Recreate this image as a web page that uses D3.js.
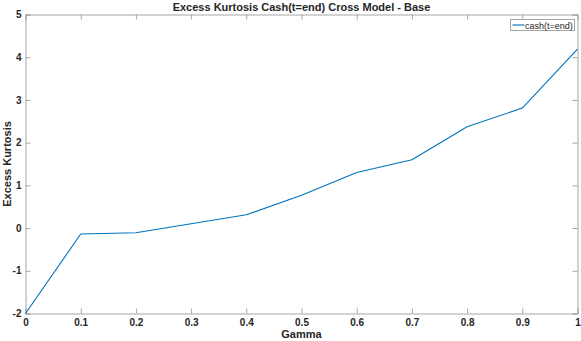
<!DOCTYPE html>
<html>
<head>
<meta charset="utf-8">
<script src="https://cdn.jsdelivr.net/npm/d3@7"></script>
<style>
  body { margin: 0; background: #fff; }
  text { font-family: "Liberation Sans", Arial, sans-serif; fill: #262626; }
</style>
</head>
<body>
<div id="chart"></div>
<script>
const gamma = [0, 0.1, 0.2, 0.3, 0.4, 0.5, 0.6, 0.7, 0.8, 0.9, 1];
const kurtosis = [-2, -0.14, -0.11, 0.10, 0.31, 0.77, 1.30, 1.60, 2.37, 2.81, 4.19];
const xTicks = [0, 0.1, 0.2, 0.3, 0.4, 0.5, 0.6, 0.7, 0.8, 0.9, 1];
const yTicks = [-2, -1, 0, 1, 2, 3, 4, 5];
const seriesName = 'cash(t=end)';

const W = 581, H = 341;
const m = { left: 25.5, right: 3.5, top: 14.5, bottom: 27.5 };
const w = W - m.left - m.right, h = H - m.top - m.bottom;

const svg = d3.select('#chart').append('svg')
    .attr('width', W)
    .attr('height', H);

const x = d3.scaleLinear().domain([0, 1]).range([0, w]);
const y = d3.scaleLinear().domain([-2, 5]).range([h, 0]);

const g = svg.append('g').attr('transform', `translate(${m.left},${m.top})`);

// box + ticks on all four sides, ticks pointing inwards like matlab
const axisColor = '#a6a6a6';
const fmt = d => String(d);

const xAx = g.append('g').attr('transform', `translate(0,${h})`)
    .call(d3.axisBottom(x).tickValues(xTicks).tickSize(-5).tickPadding(5).tickFormat(fmt));
const xTop = g.append('g')
    .call(d3.axisTop(x).tickValues(xTicks).tickSize(-5).tickFormat(''));
const yAx = g.append('g')
    .call(d3.axisLeft(y).tickValues(yTicks).tickSize(-5).tickPadding(4).tickFormat(fmt));
const yRight = g.append('g').attr('transform', `translate(${w},0)`)
    .call(d3.axisRight(y).tickValues(yTicks).tickSize(-5).tickFormat(''));

[xAx, xTop, yAx, yRight].forEach(a => {
    a.select('.domain').attr('stroke', axisColor).attr('stroke-width', 1);
    a.selectAll('.tick line').attr('stroke', axisColor);
    a.selectAll('.tick text')
        .style('font-family', '"Liberation Sans", Arial, sans-serif')
        .style('font-size', '10px')
        .style('font-weight', 'bold')
        .attr('fill', '#262626');
});
xAx.selectAll('.tick text').attr('dy', '0.71em');

// the data line
const line = d3.line()
    .x((d, i) => x(gamma[i]))
    .y(d => y(d));

g.append('path')
    .datum(kurtosis)
    .attr('d', line)
    .attr('fill', 'none')
    .attr('stroke', '#0072BD')
    .attr('stroke-width', 1.1)
    .attr('stroke-linejoin', 'round');

// title & labels
svg.append('text')
    .attr('x', m.left + w / 2)
    .attr('y', 11)
    .attr('text-anchor', 'middle')
    .style('font-size', '11px')
    .style('font-weight', 'bold')
    .attr('fill', '#000')
    .text('Excess Kurtosis Cash(t=end) Cross Model - Base');

svg.append('text')
    .attr('x', m.left + w / 2)
    .attr('y', 338)
    .attr('text-anchor', 'middle')
    .style('font-size', '11px')
    .style('font-weight', 'bold')
    .text('Gamma');

svg.append('text')
    .attr('transform', `translate(11,${m.top + h / 2}) rotate(-90)`)
    .attr('text-anchor', 'middle')
    .style('font-size', '11px')
    .style('font-weight', 'bold')
    .text('Excess Kurtosis');

// legend
const leg = svg.append('g').attr('transform', 'translate(510.5,19.5)');
leg.append('rect')
    .attr('width', 64)
    .attr('height', 11)
    .attr('fill', '#fff')
    .attr('stroke', '#a6a6a6');
leg.append('line')
    .attr('x1', 2).attr('x2', 14)
    .attr('y1', 5.5).attr('y2', 5.5)
    .attr('stroke', '#0072BD')
    .attr('stroke-width', 1.1);
leg.append('text')
    .attr('x', 14.5)
    .attr('y', 9)
    .style('font-size', '9px')
    .text(seriesName);
</script>
</body>
</html>
